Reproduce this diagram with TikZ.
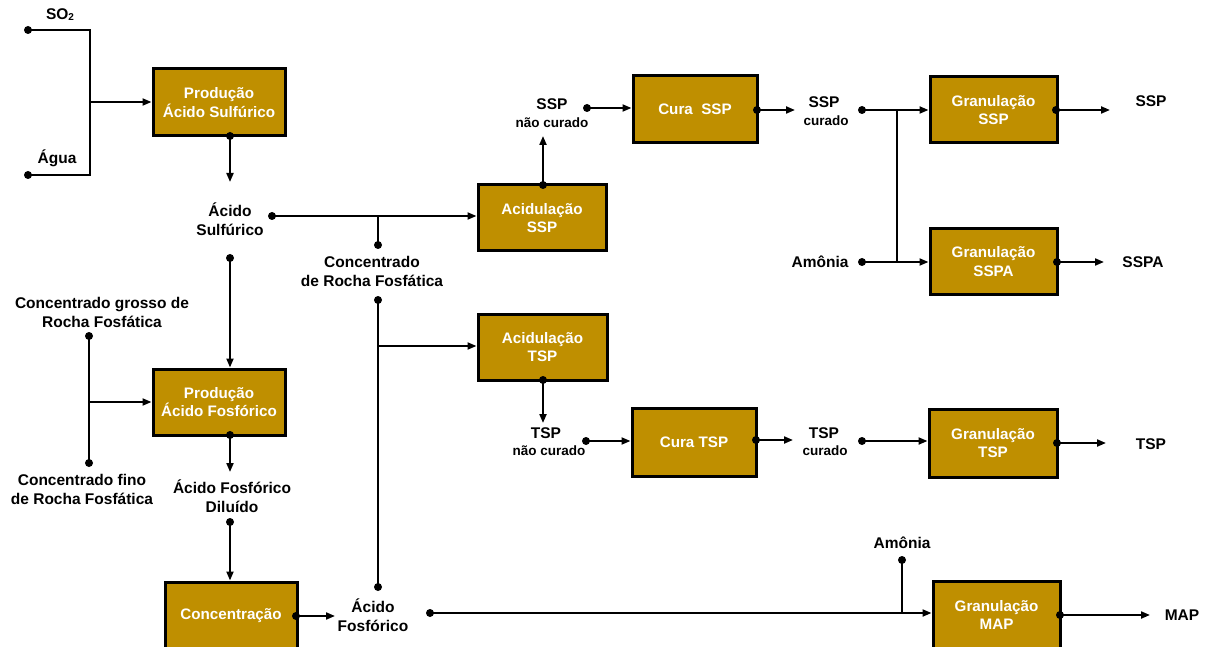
\documentclass[tikz,border=0pt]{standalone}
\usepackage{fontspec}
\setmainfont{Liberation Sans}
\usetikzlibrary{arrows.meta}
\definecolor{boxfill}{RGB}{191,143,0}
\begin{document}
\begin{tikzpicture}[x=1pt,y=-1pt,
  proc/.style={draw=black, line width=3pt, fill=boxfill, text=white,
    font=\bfseries\fontsize{15.2}{18.5}\selectfont, align=center, inner sep=0pt},
  lbl/.style={font=\bfseries\fontsize{15.5}{19}\selectfont, align=center, inner sep=0pt, text=black},
  sml/.style={font=\bfseries\fontsize{13.5}{16}\selectfont, align=center, inner sep=0pt, text=black},
  dot/.style={circle, fill=black, inner sep=0pt, minimum size=8pt},
  ln/.style={line width=2pt},
  arr/.style={line width=2pt, -{Triangle[length=9pt,width=7pt]}},
]
\clip (0,0) rectangle (1205,647);
\fill[white] (0,0) rectangle (1205,647);

% process boxes
\node[proc, minimum width=132pt, minimum height=67pt] (b1) at (219,102.5) {Produção\\Ácido Sulfúrico};
\node[proc, minimum width=132pt, minimum height=66pt] (b2) at (219,402) {Produção\\Ácido Fosfórico};
\node[proc, minimum width=132pt, minimum height=68pt] (b3) at (231,616) {Concentração};
\node[proc, minimum width=128pt, minimum height=66pt] (b4) at (542,218) {Acidulação\\SSP};
\node[proc, minimum width=124pt, minimum height=67pt] (b5) at (695,109.5) {Cura\ \ SSP};
\node[proc, minimum width=127pt, minimum height=66pt] (b6) at (993.5,110) {Granulação\\SSP};
\node[proc, minimum width=127pt, minimum height=65pt] (b7) at (993.5,261.5) {Granulação\\SSPA};
\node[proc, minimum width=129pt, minimum height=66pt] (b8) at (542.5,347) {Acidulação\\TSP};
\node[proc, minimum width=124pt, minimum height=68pt] (b9) at (694,442) {Cura TSP};
\node[proc, minimum width=128pt, minimum height=68pt] (b10) at (993,443) {Granulação\\TSP};
\node[proc, minimum width=127pt, minimum height=68pt] (b11) at (996.5,615) {Granulação\\MAP};

% SO2 / Agua -> b1
\node[lbl] (tso2) at (60,15) {SO\raisebox{-1pt}{\fontsize{10}{10}\selectfont 2}};
\node[lbl] (tagua) at (57,158) {Água};
\node[dot] (dso2) at (28,30) {};
\node[dot] (dagua) at (28,175) {};
\coordinate (j1) at (90,102);
\draw[ln] (dso2.center) -| (j1) |- (dagua.center);
\draw[arr] (j1) -- (j1 -| b1.west);

% b1 -> Acido Sulfurico
\node[dot] (o1) at (230,136) {};
\coordinate (a1) at (230,182);
\draw[arr] (o1.center) -- (a1);
\node[lbl] (tacs) at (230,219) {Ácido\\Sulfúrico};
\node[dot] (dacs) at (272,216) {};
\draw[arr] (dacs.center) -- (dacs.center -| b4.west);
\node[dot] (dcrf1) at (378,245) {};
\draw[ln] (dcrf1.center) -- (dcrf1.center |- dacs.center);
\node[lbl] (tcrf) at (372,271) {Concentrado\\de Rocha Fosfática};
\node[dot] (dcrf2) at (378,300) {};
\node[dot] (daf2) at (378,587) {};
\draw[ln] (dcrf2.center) -- (daf2.center);
\coordinate (j2) at (378,346);
\draw[arr] (j2) -- (j2 -| b8.west);

% Acido Sulfurico -> b2
\node[dot] (dacs2) at (230,258) {};
\draw[arr] (dacs2.center) -- (dacs2.center |- b2.north);

% grosso / fino -> b2
\node[lbl] (tgr) at (102,312) {Concentrado grosso de\\Rocha Fosfática};
\node[dot] (dgr) at (89,336) {};
\node[dot] (dfi) at (89,463) {};
\draw[ln] (dgr.center) -- (dfi.center);
\coordinate (j3) at (89,402);
\draw[arr] (j3) -- (j3 -| b2.west);
\node[lbl] (tfi) at (82,489) {Concentrado fino\\de Rocha Fosfática};

% b2 -> diluido -> b3
\node[dot] (o2) at (230,435) {};
\coordinate (a2) at (230,472);
\draw[arr] (o2.center) -- (a2);
\node[lbl] (tafd) at (232,496) {Ácido Fosfórico\\Diluído};
\node[dot] (dafd) at (230,522) {};
\draw[arr] (dafd.center) -- (dafd.center |- b3.north);

% b3 -> Acido Fosforico -> MAP
\node[dot] (o3) at (296,616) {};
\coordinate (a3) at (335,616);
\draw[arr] (o3.center) -- (a3);
\node[lbl] (taf) at (373,615) {Ácido\\Fosfórico};
\node[dot] (daf) at (430,613) {};
\draw[arr] (daf.center) -- (daf.center -| b11.west);
\node[lbl] (tam2) at (902,543) {Amônia};
\node[dot] (dam2) at (902,560) {};
\draw[ln] (dam2.center) -- (dam2.center |- daf.center);
\node[dot] (o11) at (1060,615) {};
\coordinate (a11) at (1150,615);
\draw[arr] (o11.center) -- (a11);
\node[lbl] (tmap) at (1182,615) {MAP};

% SSP chain
\node[dot] (o4) at (543,185) {};
\coordinate (a4) at (543,136);
\draw[arr] (o4.center) -- (a4);
\node[lbl] (tsspa) at (552,104) {SSP};
\node[sml] (tsspb) at (552,123) {não curado};
\node[dot] (dsspnc) at (587,108) {};
\draw[arr] (dsspnc.center) -- (dsspnc.center -| b5.west);
\node[dot] (o5) at (757,110) {};
\coordinate (a5) at (795,110);
\draw[arr] (o5.center) -- (a5);
\node[lbl] (tsspc) at (824,102) {SSP};
\node[sml] (tsspd) at (826,121) {curado};
\node[dot] (dsspc) at (862,110) {};
\draw[arr] (dsspc.center) -- (dsspc.center -| b6.west);
\node[lbl] (tam1) at (820,262) {Amônia};
\node[dot] (dam1) at (862,262) {};
\draw[arr] (dam1.center) -- (dam1.center -| b7.west);
\coordinate (j4) at (897,110);
\coordinate (j5) at (897,262);
\draw[ln] (j4) -- (j5);
\node[dot] (o6) at (1056,110) {};
\coordinate (a6) at (1110,110);
\draw[arr] (o6.center) -- (a6);
\node[lbl] (tsspo) at (1151,101) {SSP};
\node[dot] (o7) at (1057,262) {};
\coordinate (a7) at (1104,262);
\draw[arr] (o7.center) -- (a7);
\node[lbl] (tsspao) at (1143,262) {SSPA};

% TSP chain
\node[dot] (o8) at (543,380) {};
\coordinate (a8) at (543,423);
\draw[arr] (o8.center) -- (a8);
\node[lbl] (ttspa) at (546,433) {TSP};
\node[sml] (ttspb) at (549,451) {não curado};
\node[dot] (dtspnc) at (586,441) {};
\draw[arr] (dtspnc.center) -- (dtspnc.center -| b9.west);
\node[dot] (o9) at (756,440) {};
\coordinate (a9) at (793,440);
\draw[arr] (o9.center) -- (a9);
\node[lbl] (ttspc) at (824,433) {TSP};
\node[sml] (ttspd) at (825,451) {curado};
\node[dot] (dtspc) at (862,441) {};
\draw[arr] (dtspc.center) -- (dtspc.center -| b10.west);
\node[dot] (o10) at (1057,443) {};
\coordinate (a10) at (1106,443);
\draw[arr] (o10.center) -- (a10);
\node[lbl] (ttspo) at (1151,444) {TSP};
\end{tikzpicture}
\end{document}
